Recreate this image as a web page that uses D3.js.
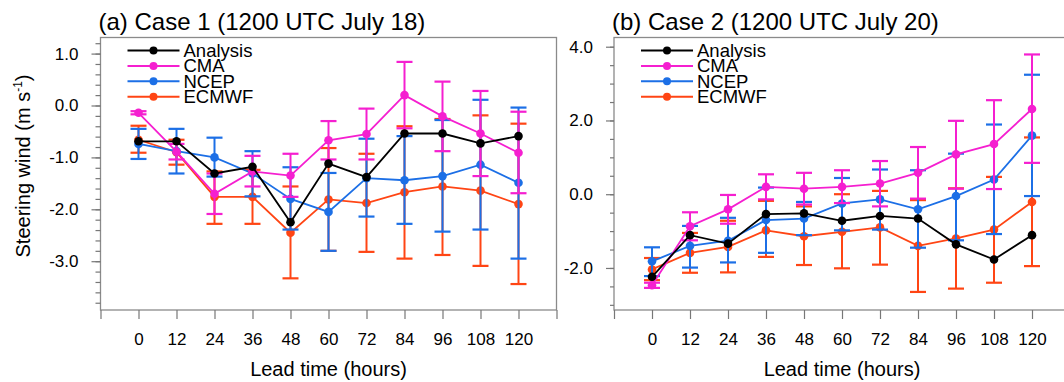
<!DOCTYPE html>
<html>
<head>
<meta charset="utf-8">
<script src="https://cdn.jsdelivr.net/npm/d3@7"></script>
<style>
  body { margin: 0; background: #fff; }
  svg text { font-family: "Liberation Sans", Arial, Helvetica, sans-serif; fill: #000; }
</style>
</head>
<body>
<div id="chart"></div>
<script>
// lead times (hours)
const leadTimes = [0, 12, 24, 36, 48, 60, 72, 84, 96, 108, 120];
const xTicks = [-12, 0, 12, 24, 36, 48, 60, 72, 84, 96, 108, 120, 132];
const seriesNames = ['Analysis', 'CMA', 'NCEP', 'ECMWF'];

// Case 1 (1200 UTC July 18)
const analysis1 = [-0.69, -0.69, -1.31, -1.18, -2.25, -1.12, -1.38, -0.54, -0.54, -0.73, -0.59];
const cma1      = [-0.14, -0.89, -1.70, -1.27, -1.35, -0.67, -0.55, 0.20, -0.21, -0.54, -0.91];
const cma1Lo    = [-0.17, -1.04, -2.09, -1.56, -1.76, -1.04, -1.04, -0.44, -0.88, -1.36, -1.69];
const cma1Hi    = [-0.11, -0.74, -1.31, -0.97, -0.93, -0.30, -0.06, 0.84, 0.46, 0.28, -0.12];
const ncep1     = [-0.74, -0.88, -1.00, -1.31, -1.80, -2.05, -1.40, -1.44, -1.36, -1.14, -1.49];
const ncep1Lo   = [-1.03, -1.31, -1.37, -1.75, -2.39, -2.80, -2.14, -2.28, -2.43, -2.39, -2.95];
const ncep1Hi   = [-0.45, -0.45, -0.62, -0.88, -1.19, -1.30, -0.64, -0.59, -0.28, 0.11, -0.04];
const ecmwf1    = [-0.66, -0.90, -1.76, -1.76, -2.45, -1.81, -1.88, -1.67, -1.56, -1.64, -1.90];
const ecmwf1Lo  = [-0.91, -1.14, -2.28, -2.28, -3.33, -2.80, -2.82, -2.95, -2.88, -3.09, -3.44];
const ecmwf1Hi  = [-0.39, -0.66, -1.27, -1.24, -1.56, -0.82, -0.93, -0.40, -0.26, -0.19, -0.35];

// Case 2 (1200 UTC July 20)
const analysis2 = [-2.24, -1.11, -1.34, -0.54, -0.52, -0.72, -0.59, -0.66, -1.36, -1.77, -1.11];
const cma2      = [-2.47, -0.87, -0.41, 0.20, 0.15, 0.20, 0.29, 0.58, 1.08, 1.36, 2.31];
const cma2Lo    = [-2.54, -1.25, -0.80, -0.14, -0.28, -0.24, -0.33, -0.12, 0.15, 0.14, 0.85];
const cma2Hi    = [-2.40, -0.49, -0.02, 0.54, 0.58, 0.65, 0.90, 1.28, 1.99, 2.55, 3.79];
const ncep2     = [-1.82, -1.40, -1.26, -0.70, -0.66, -0.25, -0.14, -0.41, -0.05, 0.40, 1.59];
const ncep2Lo   = [-2.22, -1.99, -1.85, -1.59, -1.11, -0.98, -0.96, -1.45, -1.25, -1.08, -0.05];
const ncep2Hi   = [-1.44, -0.86, -0.64, 0.18, -0.21, 0.44, 0.67, 0.65, 1.10, 1.89, 3.24];
const ecmwf2    = [-2.04, -1.59, -1.43, -0.98, -1.14, -1.02, -0.90, -1.40, -1.20, -0.96, -0.21];
const ecmwf2Lo  = [-2.33, -2.13, -2.12, -1.70, -1.92, -2.01, -1.91, -2.65, -2.56, -2.40, -1.95];
const ecmwf2Hi  = [-1.73, -1.05, -0.72, -0.18, -0.33, 0.00, 0.09, -0.16, 0.16, 0.47, 1.54];

const colors = { Analysis: '#000000', CMA: '#f51fd0', NCEP: '#1c6fe6', ECMWF: '#ff4514' };

const W = 1064, H = 382;
const svg = d3.select('#chart').append('svg')
  .attr('width', W)
  .attr('height', H);

function drawPanel(cfg) {
  const top = 37.5, bottom = 310;
  const x = d3.scaleLinear().domain([-12, 132]).range([cfg.left, cfg.left + 456]);
  const y = d3.scaleLinear().domain(cfg.yDomain).range([bottom, top]);
  const g = svg.append('g');

  // frame
  g.append('rect')
    .attr('x', cfg.left).attr('y', top)
    .attr('width', 456).attr('height', bottom - top)
    .attr('fill', 'none').attr('stroke', '#8a8a8a').attr('stroke-width', 1.3);

  // x axis (outward ticks)
  const xAxis = g.append('g')
    .attr('transform', `translate(0,${bottom})`)
    .call(d3.axisBottom(x).tickValues(xTicks).tickSize(9).tickPadding(14)
      .tickFormat(d => (d >= 0 && d <= 120) ? d : ''));
  xAxis.select('.domain').remove();
  xAxis.selectAll('line').attr('stroke', '#777').attr('stroke-width', 1.2);
  xAxis.selectAll('text').style('font-size', '17px');

  // y axis, minor + major ticks
  const yAxis = g.append('g').attr('transform', `translate(${cfg.left},0)`);
  yAxis.call(d3.axisLeft(y).tickValues(cfg.minor).tickSize(cfg.minorLen).tickFormat(''));
  const yMajor = g.append('g').attr('transform', `translate(${cfg.left},0)`)
    .call(d3.axisLeft(y).tickValues(cfg.major).tickSize(cfg.majorLen).tickPadding(cfg.pad)
      .tickFormat(d3.format('.1f')));
  yAxis.select('.domain').remove();
  yMajor.select('.domain').remove();
  g.selectAll('.tick line').attr('stroke', '#777').attr('stroke-width', 1.2);
  yMajor.selectAll('text').style('font-size', '17px').text(d => d3.format('.1f')(d).replace('−', '-'));

  // series: ECMWF at the bottom, Analysis on top
  const line = d3.line().x(d => x(d.t)).y(d => y(d.v));
  cfg.series.slice().reverse().forEach(s => {
    const pts = leadTimes.map((t, i) => ({ t, v: s.v[i], lo: s.lo ? s.lo[i] : null, hi: s.hi ? s.hi[i] : null }));
    const c = colors[s.name];
    const sg = g.append('g');
    if (s.lo) {
      sg.selectAll('.bar').data(pts).enter().append('line')
        .attr('x1', d => x(d.t)).attr('x2', d => x(d.t))
        .attr('y1', d => y(d.lo)).attr('y2', d => y(d.hi))
        .attr('stroke', c).attr('stroke-width', 2);
      ['lo', 'hi'].forEach(k => {
        sg.selectAll('.cap' + k).data(pts).enter().append('line')
          .attr('x1', d => x(d.t) - 8).attr('x2', d => x(d.t) + 8)
          .attr('y1', d => y(d[k])).attr('y2', d => y(d[k]))
          .attr('stroke', c).attr('stroke-width', 2.2);
      });
    }
    sg.append('path').datum(pts)
      .attr('fill', 'none').attr('stroke', c).attr('stroke-width', 1.8)
      .attr('d', line);
    sg.selectAll('circle').data(pts).enter().append('circle')
      .attr('cx', d => x(d.t)).attr('cy', d => y(d.v))
      .attr('r', 4.3).attr('fill', c);
  });

  // legend
  const lx = cfg.left + 27;
  seriesNames.forEach((n, i) => {
    const ly = 50.5 + i * 15.4;
    g.append('line').attr('x1', lx).attr('x2', lx + 52).attr('y1', ly).attr('y2', ly)
      .attr('stroke', colors[n]).attr('stroke-width', 2);
    g.append('circle').attr('cx', lx + 26).attr('cy', ly).attr('r', 4).attr('fill', colors[n]);
    g.append('text').attr('x', lx + 56).attr('y', ly + 6.5)
      .style('font-size', '18.5px').text(n);
  });

  // title
  g.append('text').attr('x', cfg.left - 2).attr('y', 30)
    .style('font-size', '24px').text(cfg.title);

  // x label
  g.append('text').attr('x', x(60)).attr('y', 376)
    .attr('text-anchor', 'middle').style('font-size', '20px').text('Lead time (hours)');
}

drawPanel({
  left: 100.5,
  yDomain: [-3.94, 1.31],
  major: [-3, -2, -1, 0, 1],
  minor: d3.range(-38, 13, 2).map(v => v / 10),
  majorLen: 9, minorLen: 5, pad: 13,
  title: '(a) Case 1 (1200 UTC July 18)',
  series: [
    { name: 'Analysis', v: analysis1 },
    { name: 'CMA', v: cma1, lo: cma1Lo, hi: cma1Hi },
    { name: 'NCEP', v: ncep1, lo: ncep1Lo, hi: ncep1Hi },
    { name: 'ECMWF', v: ecmwf1, lo: ecmwf1Lo, hi: ecmwf1Hi }
  ]
});

drawPanel({
  left: 614,
  yDomain: [-3.14, 4.25],
  major: [-2, 0, 2, 4],
  minor: d3.range(-6, 9, 1).map(v => v / 2),
  majorLen: 8, minorLen: 4, pad: 13,
  title: '(b) Case 2 (1200 UTC July 20)',
  series: [
    { name: 'Analysis', v: analysis2 },
    { name: 'CMA', v: cma2, lo: cma2Lo, hi: cma2Hi },
    { name: 'NCEP', v: ncep2, lo: ncep2Lo, hi: ncep2Hi },
    { name: 'ECMWF', v: ecmwf2, lo: ecmwf2Lo, hi: ecmwf2Hi }
  ]
});

// y label
const yl = svg.append('text')
  .attr('transform', 'translate(30,166) rotate(-90)')
  .attr('text-anchor', 'middle')
  .style('font-size', '20px');
yl.append('tspan').text('Steering wind (m s');
yl.append('tspan').attr('dy', -8).style('font-size', '12px').text('-1');
yl.append('tspan').attr('dy', 8).text(')');
</script>
</body>
</html>
